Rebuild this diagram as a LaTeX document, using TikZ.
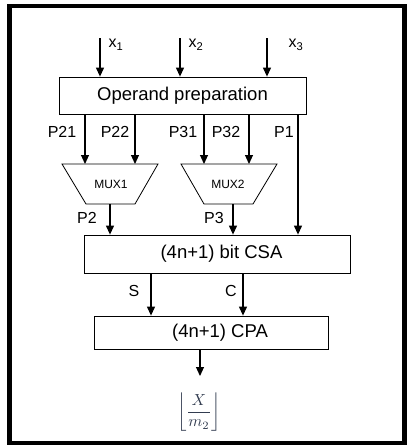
\documentclass[tikz,border=0pt]{standalone}
\usepackage{fontspec}
\setmainfont{Liberation Sans}
\usetikzlibrary{arrows.meta}
\definecolor{mathc}{RGB}{50,60,80}
\tikzset{
  blk/.style={draw, line width=0.8pt, inner sep=0pt, font=\fontsize{18.5}{21}\selectfont},
  lbl/.style={inner sep=0pt, font=\fontsize{16}{18}\selectfont},
  arr/.style={line width=1.1pt, -{Triangle[width=8pt,length=9pt]}},
  muxs/.style={draw, line width=0.8pt},
}
\begin{document}
\begin{tikzpicture}[x=1pt,y=-1pt]
\useasboundingbox (0,0) rectangle (409,445);
\draw[line width=4.6pt] (9.2,5.8) rectangle (404.5,443.7);

% boxes
\node[blk, minimum width=247pt, minimum height=37pt] (op) at (182.5,95.5) {Operand preparation};
\node[blk, minimum width=266pt, minimum height=38pt] (csa) at (217,254) {\hspace*{9pt}(4n+1) bit CSA};
\node[blk, minimum width=234pt, minimum height=33pt] (cpa) at (211,332.5) {\hspace*{18pt}(4n+1) CPA};

% muxes
\draw[muxs] (62,164) -- (158,164) -- (135,204) -- (86,204) -- cycle;
\node[inner sep=0pt, font=\fontsize{12}{14}\selectfont] (mux1) at (111,184) {MUX1};
\draw[muxs] (181,164) -- (277,164) -- (253,204) -- (204,204) -- cycle;
\node[inner sep=0pt, font=\fontsize{12}{14}\selectfont] (mux2) at (228,184) {MUX2};
\coordinate (m1top) at (110,164);
\coordinate (m1bot) at (110,204);
\coordinate (m2top) at (229,164);
\coordinate (m2bot) at (233,204);

% inputs
\coordinate (i1) at (100,38);
\coordinate (i2) at (180,38);
\coordinate (i3) at (267,38);
\draw[arr] (i1) -- (i1 |- op.north);
\draw[arr] (i2) -- (i2 |- op.north);
\draw[arr] (i3) -- (i3 |- op.north);
\node[lbl] (lx1) at (116,45) {x\textsubscript{1}};
\node[lbl] (lx2) at (196,45) {x\textsubscript{2}};
\node[lbl] (lx3) at (296,45) {x\textsubscript{3}};

% operand outputs
\coordinate (p21) at (85,0);
\coordinate (p22) at (135,0);
\coordinate (p31) at (204,0);
\coordinate (p32) at (249,0);
\coordinate (p1) at (298,0);
\draw[arr] (p21 |- op.south) -- (p21 |- m1top);
\draw[arr] (p22 |- op.south) -- (p22 |- m1top);
\draw[arr] (p31 |- op.south) -- (p31 |- m2top);
\draw[arr] (p32 |- op.south) -- (p32 |- m2top);
\draw[arr] (p1 |- op.south) -- (p1 |- csa.north);
\node[lbl] (l21) at (62,132) {P21};
\node[lbl] (l22) at (115,132) {P22};
\node[lbl] (l31) at (183,132) {P31};
\node[lbl] (l32) at (226,132) {P32};
\node[lbl] (l1) at (284,132) {P1};

% mux outputs
\draw[arr] (m1bot) -- (m1bot |- csa.north);
\draw[arr] (m2bot) -- (m2bot |- csa.north);
\node[lbl] (l2) at (87,218) {P2};
\node[lbl] (l3) at (214,218) {P3};

% CSA outputs
\coordinate (s) at (151,0);
\coordinate (c) at (243,0);
\draw[arr] (s |- csa.south) -- (s |- cpa.north);
\draw[arr] (c |- csa.south) -- (c |- cpa.north);
\node[lbl] (ls) at (134,291) {S};
\node[lbl] (lc) at (231,291) {C};

% output
\coordinate (o) at (200,376);
\draw[arr] (o |- cpa.south) -- (o);
\node[inner sep=0pt, text=mathc] (res) at (199,412) {\scalebox{1.6}{$\left\lfloor\displaystyle\frac{X}{m_2}\right\rfloor$}};
\end{tikzpicture}
\end{document}
